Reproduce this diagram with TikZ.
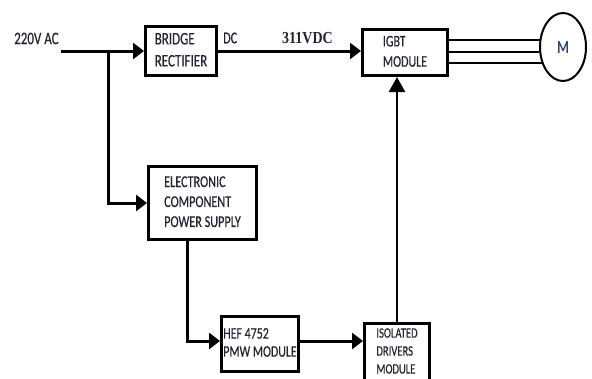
\documentclass[tikz,border=0pt]{standalone}
\usepackage{fontspec}
\usepackage{graphicx}
\setmainfont{Carlito}[FakeBold=0.5]
\newfontfamily\serifb{Liberation Serif}
\usetikzlibrary{arrows.meta,shapes.geometric}
\definecolor{txt}{RGB}{40,34,48}
\definecolor{mcol}{RGB}{50,70,120}
\newcommand\stk[3]{\scalebox{1}[1.35]{\fontsize{#1}{#2}\selectfont\begin{tabular}{@{}l@{}}#3\end{tabular}}}
\tikzset{
  blockbox/.style={draw, line width=3pt, inner sep=0pt, text=txt},
  conn/.style={line width=3pt, -{Triangle[length=11pt,width=16pt]}},
  wire/.style={line width=2.5pt},
  lbl/.style={inner sep=0pt, text=txt, anchor=west}
}
\begin{document}
\begin{tikzpicture}[x=1pt,y=-1pt]
\useasboundingbox (0,0) rectangle (592,378);
\clip (0,0) rectangle (592,378);
\fill[white] (0,0) rectangle (592,378);

% blocks
\node[blockbox, minimum width=71pt, minimum height=49pt] (bridge) at (181,51)
  {\stk{13}{16.3}{BRIDGE\\RECTIFIER}};
\node[blockbox, minimum width=85pt, minimum height=46pt] (igbt) at (405,52.5)
  {\stk{12}{15}{IGBT\\MODULE}};
\node[blockbox, minimum width=108pt, minimum height=73pt] (elec) at (202.5,203)
  {\stk{12.2}{14.8}{ELECTRONIC\\COMPONENT\\POWER SUPPLY}};
\node[blockbox, minimum width=77pt, minimum height=55pt] (hef) at (260,344)
  {\stk{11.9}{13.4}{HEF 4752\\PMW MODULE}};
\node[blockbox, minimum width=65pt, minimum height=57pt] (iso) at (397,352)
  {\stk{10.6}{13.3}{ISOLATED\\DRIVERS\\MODULE}};
\node[draw, ellipse, line width=2pt, minimum width=46pt, minimum height=68pt, inner sep=0pt, text=mcol] (motor) at (563,47)
  {\scalebox{1}[1.3]{\fontsize{14}{16}\selectfont M}};

% labels
\node[lbl] (aclbl) at (14,38.5) {\scalebox{1}[1.35]{\fontsize{13}{15}\selectfont 220V AC}};
\node[lbl] (dclbl) at (223,38) {\scalebox{1}[1.35]{\fontsize{12.2}{15}\selectfont DC}};
\node[lbl] (vdclbl) at (282,38) {\scalebox{1}[1.2]{\fontsize{14}{16}\selectfont\serifb\bfseries 311VDC}};

% connectors
\coordinate (acs) at (61,51);
\coordinate (br) at (108,51);
\coordinate (tp) at (187,341);
\draw[conn] (acs) -- (acs -| bridge.west);
\draw[conn] (br) |- (elec.west);
\draw[conn] (bridge.east) -- (bridge.east -| igbt.west);
\draw[conn] (elec.south -| tp) -- (tp) -- (tp -| hef.west);
\draw[conn] (hef.east |- tp) -- (tp -| iso.west);
\draw[conn, line width=2.5pt, -{Triangle[length=15pt,width=16pt]}] (iso.north) -- (iso.north |- igbt.south);

% motor wires
\draw[wire] (motor.163 -| igbt.east) -- (motor.163);
\draw[wire] (motor.192 -| igbt.east) -- (motor.192);
\draw[wire] (motor.217 -| igbt.east) -- (motor.217);
\end{tikzpicture}
\end{document}
